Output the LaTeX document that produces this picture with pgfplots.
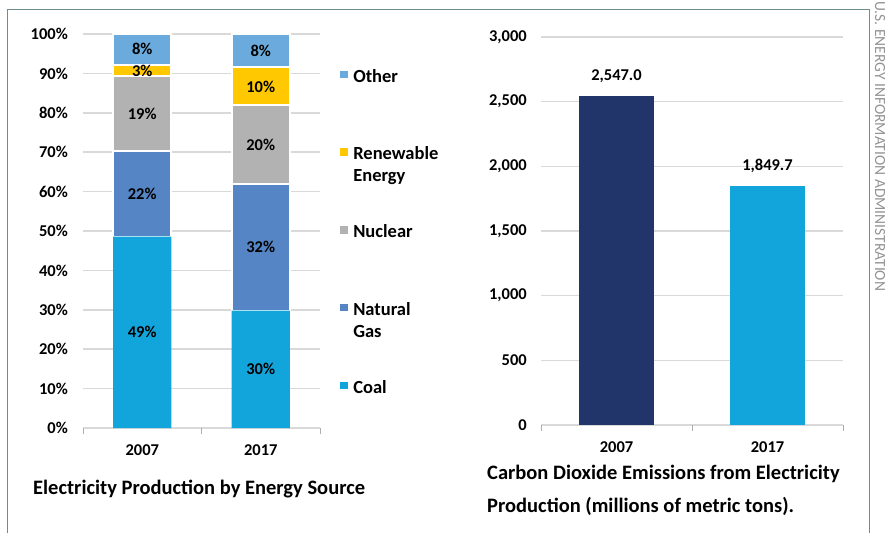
\documentclass[border=0pt]{standalone}
\usepackage{pgfplots}
\pgfplotsset{compat=1.18}
\usepackage{fontspec}
\setmainfont{Carlito}
\definecolor{coal}{HTML}{12A5DC}
\definecolor{gas}{HTML}{5585C5}
\definecolor{nuclear}{HTML}{B2B2B2}
\definecolor{renew}{HTML}{FFC800}
\definecolor{other}{HTML}{6AAADC}
\definecolor{navy}{HTML}{22356B}
\definecolor{gridc}{HTML}{D9D9D9}
\definecolor{framec}{HTML}{6E8E8E}
\newcommand{\myfont}{\bfseries\fontsize{16.5}{19}\selectfont}
\pgfplotsset{
  mybase/.style={
    scale only axis,
    anchor=south west,
    axis line style={draw=none},
    xtick pos=bottom, ytick pos=left,
    xmin=-0.5, xmax=1.5,
    xtick={0,1}, xticklabels={2007,2017},
    major tick length=0pt,
    extra x ticks={-0.5,0.5,1.5},
    extra x tick labels={},
    extra x tick style={grid=none, major tick length=6pt, tick align=outside,
      tick style={draw=gridc!80!black, line width=1pt}},
    ymajorgrids,
    grid style={gridc, line width=1.5pt},
    tick label style={font=\myfont},
    /pgf/number format/assume math mode=true,
    yticklabel style={anchor=east, inner sep=0pt},
    xticklabel style={anchor=north, inner sep=0pt},
    clip=false,
  },
}
\pgfplotstableread{
x   y     lab
0   24.3  49
0   59.5  22
0   79.8  19
0   90.7  3
0   96.1  8
1   14.9  30
1   45.9  32
1   71.9  20
1   86.7  10
1   95.8  8
}\barlabels
\begin{document}
\begin{tikzpicture}
\useasboundingbox (0pt,0pt) rectangle (885pt,-533pt);
\clip (0pt,0pt) rectangle (885pt,-533pt);
\draw[framec, line width=1pt] (7pt,-533pt) -- (7pt,-9.5pt) -- (869pt,-9.5pt) -- (869pt,-533pt);
\node[rotate=-90, anchor=base west, inner sep=0pt, font=\fontsize{15.5}{18}\selectfont, text=gray!85] at (875pt,-1pt) {U.S. ENERGY INFORMATION ADMINISTRATION};

% ---------- left chart ----------
\begin{axis}[mybase,
  at={(83pt,-428pt)}, width=237pt, height=394pt,
  ymin=0, ymax=100, ytick={0,10,...,100},
  yticklabel={\pgfmathprintnumber{\tick}\%},
  yticklabel style={xshift=-15pt},
  xticklabel style={yshift=-16pt},
  ybar stacked, bar width=0.49,
  reverse legend,
  legend style={at={(1.0844,0.9086)}, anchor=north west, draw=none, fill=none,
    inner sep=0pt, outer sep=0pt, row sep=0pt, column sep=5.8pt,
    font=\bfseries\fontsize{18.5}{22}\selectfont,
    nodes={inner sep=0pt, text height=12pt, text depth=65.75pt, anchor=base west}},
  legend image code/.code={\fill[#1, draw=none] (0pt,4pt) rectangle (7.5pt,11.5pt);},
]
\addplot[fill=coal, draw=none] coordinates {(0,48.6) (1,29.8)};
\addlegendentry{Coal}
\addplot[fill=gas, draw=white, line width=2pt] coordinates {(0,21.8) (1,32.2)};
\addlegendentry{{\begin{tabular}[t]{@{}l@{}}Natural\\Gas\end{tabular}}}
\addplot[fill=nuclear, draw=white, line width=2pt] coordinates {(0,18.9) (1,19.9)};
\addlegendentry{Nuclear}
\addplot[fill=renew, draw=white, line width=2pt] coordinates {(0,2.9) (1,9.7)};
\addlegendentry{{\begin{tabular}[t]{@{}l@{}}Renewable\\Energy\end{tabular}}}
\addplot[fill=other, draw=white, line width=2pt] coordinates {(0,7.8) (1,8.4)};
\addlegendentry{Other}
\end{axis}

% ---------- overlay: segment labels of the left chart ----------
\begin{axis}[scale only axis, anchor=south west, hide axis,
  at={(83pt,-428pt)}, width=237pt, height=394pt,
  xmin=-0.5, xmax=1.5, ymin=0, ymax=100, clip=false,
  /pgf/number format/assume math mode=true]
\addplot[draw=none, mark=none, nodes near coords={\pgfmathprintnumber{\pgfplotspointmeta}\%},
  point meta=explicit,
  every node near coord/.style={font=\myfont, text=black, anchor=center, inner sep=0pt}]
  table[x=x, y=y, meta=lab] {\barlabels};
\end{axis}

% ---------- right chart ----------
\begin{axis}[mybase,
  at={(541pt,-425pt)}, width=302pt, height=388pt,
  ymin=0, ymax=3000, ytick={0,500,...,3000},
  scaled y ticks=false,
  yticklabel style={xshift=-14pt},
  xticklabel style={yshift=-16pt},
  ybar, bar width=0.5,
  nodes near coords={\pgfmathprintnumber[fixed,fixed zerofill,precision=1,1000 sep={,}]{\pgfplotspointmeta}},
  every node near coord/.append style={font=\myfont, inner sep=0pt, anchor=south, yshift=13pt},
]
\addplot[fill=navy, draw=none, bar shift=0pt] coordinates {(0,2547.0)};
\addplot[fill=coal, draw=none, bar shift=0pt] coordinates {(1,1849.7)};
\end{axis}

\node[anchor=base west, inner sep=0pt, font=\bfseries\fontsize{20.5}{24}\selectfont] at (33pt,-494pt) {Electricity Production by Energy Source};
\node[anchor=base west, inner sep=0pt, align=left, font=\bfseries\fontsize{20.5}{33}\selectfont] at (487pt,-512pt) {Carbon Dioxide Emissions from Electricity\\Production (millions of metric tons).};
\end{tikzpicture}
\end{document}
